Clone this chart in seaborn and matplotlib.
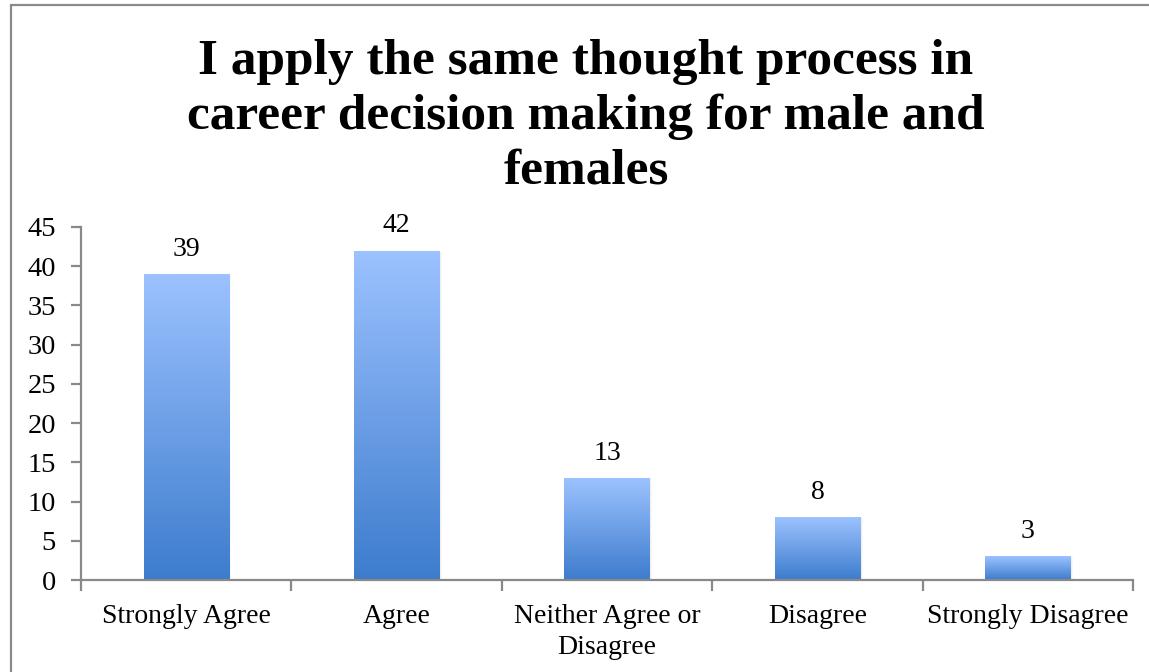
import numpy as np
import pandas as pd
import matplotlib
matplotlib.use("Agg")
import matplotlib.pyplot as plt
from matplotlib.colors import LinearSegmentedColormap
from matplotlib.patches import Rectangle
import seaborn as sns

categories = ["Strongly Agree", "Agree", "Neither Agree or\nDisagree",
              "Disagree", "Strongly Disagree"]
counts = [39, 42, 13, 8, 3]
y_ticks = [0, 5, 10, 15, 20, 25, 30, 35, 40, 45]
title = "I apply the same thought process in\ncareer decision making for male and\nfemales"

df = pd.DataFrame({"response": categories, "count": counts})

sns.set_theme(style="white")
plt.rcParams["font.family"] = ["Liberation Serif", "DejaVu Serif"]

fig = plt.figure(figsize=(11.49, 6.72), dpi=100)
ax = fig.add_axes([81 / 1149, 92 / 672, 1052 / 1149, 353 / 672])

sns.barplot(data=df, x="response", y="count", ax=ax, width=0.405,
            color="#6b9be6", saturation=1, edgecolor="none")

# vertical blue gradient inside each bar
grad_cmap = LinearSegmentedColormap.from_list("bar_grad", ["#3d7ccd", "#9cc2ff"])
grad = np.linspace(0, 1, 256).reshape(-1, 1)
for patch in list(ax.patches):
    x0, y0 = patch.get_x(), patch.get_y()
    w, h = patch.get_width(), patch.get_height()
    # soft shadow on the right
    for k, a in enumerate([0.10, 0.06, 0.03]):
        ax.add_patch(Rectangle((x0 + w, y0), 0.004 * (k + 1), h * 0.995,
                               facecolor="#555555", alpha=a, edgecolor="none",
                               zorder=1.5))
    im = ax.imshow(grad, extent=(x0, x0 + w, y0, y0 + h), origin="lower",
                   cmap=grad_cmap, aspect="auto", zorder=2,
                   interpolation="bilinear")
    im.set_clip_path(patch)
    patch.set_facecolor("none")

# value labels above bars
for i, v in enumerate(counts):
    ax.text(i, v + 2.3, str(v), ha="center", va="baseline",
            fontsize=20, color="black")

ax.set_xlim(-0.5, len(categories) - 0.5)
ax.set_ylim(0, 45)
ax.set_yticks(y_ticks)
ax.set_yticklabels([str(t) for t in y_ticks])
ax.set_xlabel("")
ax.set_ylabel("")

axis_grey = "#898989"
for side in ["top", "right"]:
    ax.spines[side].set_visible(False)
for side in ["left", "bottom"]:
    ax.spines[side].set_color(axis_grey)
    ax.spines[side].set_linewidth(1.6)

ax.tick_params(axis="y", which="major", length=7, width=1.6, color=axis_grey,
               labelsize=20.5, labelcolor="black", pad=11, left=True)
ax.tick_params(axis="x", which="major", length=0, labelsize=20,
               labelcolor="black", pad=17, bottom=True)
ax.set_xticks(np.arange(-0.5, len(categories), 1.0), minor=True)
ax.tick_params(axis="x", which="minor", length=8, width=1.6, color=axis_grey,
               bottom=True)
for lbl in ax.get_xticklabels():
    lbl.set_linespacing(1.32)

fig.text(586 / 1149, 1 - 183 / 672, title, ha="center", va="baseline",
         fontsize=37, fontweight="bold", linespacing=1.24, color="black")

# outer chart frame
fig.patches.append(Rectangle((11 / 1149, -0.1), 1.2, 1 - 5 / 672 + 0.1,
                             transform=fig.transFigure, fill=False,
                             edgecolor="#8a8a8a", linewidth=1.6))

fig.savefig("out.png", dpi=100, facecolor="white")
